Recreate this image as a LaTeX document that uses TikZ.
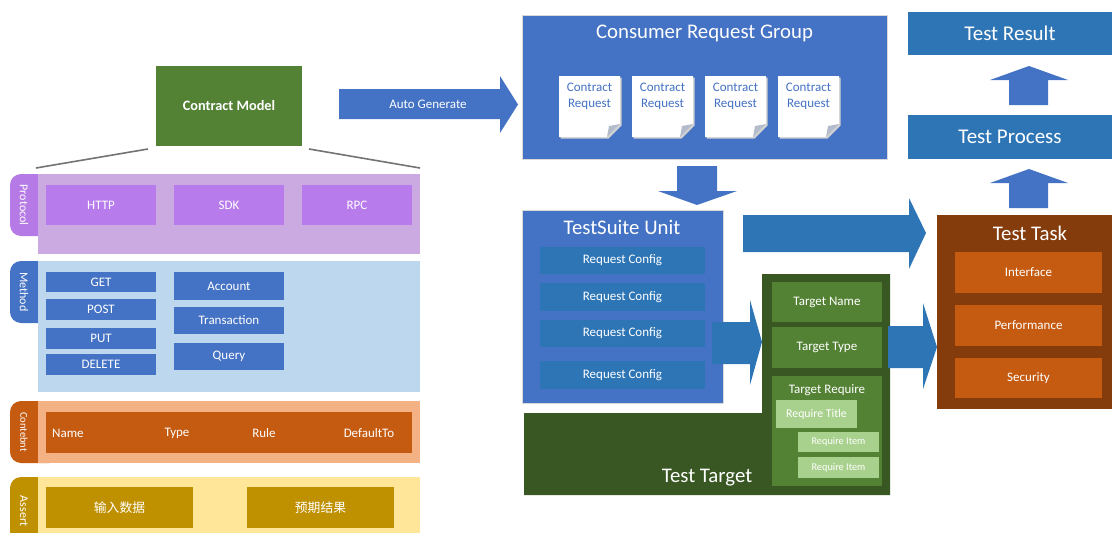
\documentclass[tikz,border=0pt]{standalone}
\usepackage{fontspec}
\setmainfont{Carlito}
\newfontfamily\cjk{Noto Sans CJK SC}
\usetikzlibrary{calc}

\definecolor{cBlue}{HTML}{4472C4}
\definecolor{cMid}{HTML}{2E75B6}
\definecolor{cGreen}{HTML}{548235}
\definecolor{cDkGreen}{HTML}{385723}
\definecolor{cLtGreen}{HTML}{A9D18E}
\definecolor{cBrown}{HTML}{843C0C}
\definecolor{cOrange}{HTML}{C55A11}
\definecolor{cLtOrange}{HTML}{F4B183}
\definecolor{cGold}{HTML}{BF9000}
\definecolor{cLtGold}{HTML}{FFE699}
\definecolor{cLtBlue}{HTML}{BDD7EE}
\definecolor{cPurple}{HTML}{B77BEC}
\definecolor{cPurpleTab}{HTML}{B57AE6}
\definecolor{cLtPurple}{HTML}{CBAAE2}
\definecolor{cFold}{HTML}{B4BCCB}

% box from corner (x1,y1) to (x2,y2), in pixel units
\newcommand\bx[7]{\node[#6, minimum width={(#4-#2)*1pt}, minimum height={(#5-#3)*1pt}] (#1) at ({(#2+#4)/2},{(#3+#5)/2}) {#7};}

% sheet with a folded corner
\newcommand\sheet[3]{%
  \fill[black!18] (#2+1.5,#3+1.5) -- ++(61,0) -- ++(0,48) -- ++(-13,13) -- ++(-48,0) -- cycle;
  \fill[white] (#2,#3) -- ++(61,0) -- ++(0,48) -- ++(-13,13) -- ++(-48,0) -- cycle;
  \fill[cFold] (#2+61,#3+48) -- (#2+48,#3+61) -- (#2+50,#3+50) -- cycle;
  \node[doctext] (#1) at (#2+30.5,#3+20) {Contract\\Request};}

% side tab with rounded left corners
\newcommand\tab[5]{%
  \fill[#4, rounded corners=11pt] (10,#2) rectangle (60,#3);
  \node[tablabel] (#1) at (24,{(#2+#3)/2}) {#5};}

\begin{document}
\begin{tikzpicture}[x=1pt,y=-1pt,
  box/.style={inner sep=0pt, outer sep=0pt, text=white, align=center,
    font=\fontsize{13}{15}\selectfont},
  title/.style={inner sep=0pt, text=white, font=\fontsize{20.8}{24}\selectfont},
  doctext/.style={inner sep=0pt, text=cBlue, align=center,
    font=\fontsize{13}{16}\selectfont},
  tablabel/.style={inner sep=0pt, text=white, rotate=-90,
    font=\fontsize{12}{14}\selectfont},
  small/.style={inner sep=0pt, text=white, font=\fontsize{13}{15}\selectfont},
  link/.style={draw=black!55, line width=1.6pt},
  frame/.style={draw=black!15, line width=0.8pt},
]
\useasboundingbox (0,0) rectangle (1112,533);
\begin{scope}
\clip (0,0) rectangle (1112,533);

% ---------------- contract model ----------------
\bx{cm}{156}{66}{302}{146}{box,fill=cGreen,font=\bfseries\fontsize{14.3}{17}\selectfont}{Contract Model}
\coordinate (cml) at (148,149);
\coordinate (cmr) at (309,149);
\coordinate (pl) at (36,168);
\coordinate (pr) at (420,168);
\draw[link] (cml) -- (pl);
\draw[link] (cmr) -- (pr);

% Protocol
\tab{tproto}{174}{236}{cPurpleTab}{Protocol}
\bx{bproto}{38}{174}{420}{254}{box,fill=cLtPurple}{}
\bx{http}{46}{185}{156}{225}{box,fill=cPurple}{HTTP}
\bx{sdk}{174}{185}{284}{225}{box,fill=cPurple}{SDK}
\bx{rpc}{302}{185}{412}{225}{box,fill=cPurple}{RPC}

% Method
\tab{tmeth}{261}{323}{cBlue}{Method}
\bx{bmeth}{38}{261}{420}{392}{box,fill=cLtBlue}{}
\bx{get}{46}{272}{156}{292}{box,fill=cBlue}{GET}
\bx{post}{46}{299}{156}{320}{box,fill=cBlue}{POST}
\bx{put}{46}{328}{156}{349}{box,fill=cBlue}{PUT}
\bx{del}{46}{354}{156}{375}{box,fill=cBlue}{DELETE}
\bx{acc}{174}{272}{284}{300}{box,fill=cBlue}{Account}
\bx{trx}{174}{307}{284}{334}{box,fill=cBlue}{Transaction}
\bx{qry}{174}{343}{284}{370}{box,fill=cBlue}{Query}

% Content
\tab{tcont}{401}{463}{cOrange}{\fontsize{10.5}{12}\selectfont Contebnt}
\bx{bcont}{38}{401}{420}{463}{box,fill=cLtOrange}{}
\bx{fields}{46}{412}{412}{453}{box,fill=cOrange}{}
\node[small, anchor=west] (fname) at (52,433) {Name};
\node[small] (ftype) at (177,433) {Type};
\node[small] (frule) at (264,433) {Rule};
\node[small] (fdef) at (369,433) {DefaultTo};

% Assert
\tab{tass}{477}{545}{cGold}{Assert}
\bx{bass}{38}{477}{420}{545}{box,fill=cLtGold}{}
\bx{inp}{46}{487}{193}{528}{box,fill=cGold,font=\cjk\fontsize{12.8}{15}\selectfont}{输入数据}
\bx{exp}{247}{487}{394}{528}{box,fill=cGold,font=\cjk\fontsize{12.8}{15}\selectfont}{预期结果}

% ---------------- auto generate ----------------
\fill[cBlue] (339,89) -- (500,89) -- (500,76) -- (518,104.5) -- (500,133) -- (500,119) -- (339,119) -- cycle;
\node[small] (autogen) at (428,104) {Auto Generate};

% ---------------- consumer request group ----------------
\bx{crg}{522}{15}{887}{159}{box,fill=cBlue,frame}{}
\node[title] (crgt) at (704.5,33) {Consumer Request Group};
\sheet{d1}{559}{76}
\sheet{d2}{632}{76}
\sheet{d3}{705}{76}
\sheet{d4}{778}{76}

% down arrow
\fill[cBlue] (677,166) -- (717,166) -- (717,191) -- (737,191) -- (697,205) -- (658,191) -- (677,191) -- cycle;

% ---------------- testsuite unit ----------------
\bx{tsu}{522}{210}{723}{403}{box,fill=cBlue,frame}{}
\node[title] (tsut) at (622,227) {TestSuite Unit};
\bx{rc1}{540}{247}{705}{274}{box,fill=cMid}{Request Config}
\bx{rc2}{540}{283}{705}{311}{box,fill=cMid}{Request Config}
\bx{rc3}{540}{320}{705}{347}{box,fill=cMid}{Request Config}
\bx{rc4}{540}{361}{705}{389}{box,fill=cMid}{Request Config}

% ---------------- test target ----------------
\fill[cDkGreen] (524,413) -- (762,413) -- (762,274) -- (890,274) -- (890,495) -- (524,495) -- cycle;
\node[title] (ttt) at (707,478) {Test Target};
\bx{tname}{772}{282}{882}{322}{box,fill=cGreen}{Target Name}
\bx{ttype}{772}{327}{882}{368}{box,fill=cGreen}{Target Type}
\bx{treq}{772}{376}{882}{486}{box,fill=cGreen}{}
\node[small] (treqt) at (827,390) {Target Require};
\bx{rtitle}{776}{400}{857}{428}{box,fill=cLtGreen,font=\fontsize{11.8}{14}\selectfont}{Require Title}
\bx{ritem1}{798}{432}{879}{452}{box,fill=cLtGreen,font=\fontsize{10.3}{12}\selectfont}{Require Item}
\bx{ritem2}{798}{457}{879}{478}{box,fill=cLtGreen,font=\fontsize{10.3}{12}\selectfont}{Require Item}

% arrows into target and task
\fill[cMid] (712,322) -- (750,322) -- (750,300) -- (762,342) -- (750,385) -- (750,364) -- (712,364) -- cycle;
\fill[cMid] (888,326) -- (923,326) -- (923,303) -- (937,347) -- (923,389) -- (923,368) -- (888,368) -- cycle;
\fill[cMid] (743,215) -- (909,215) -- (909,198) -- (926,233) -- (909,269) -- (909,252) -- (743,252) -- cycle;

% ---------------- test task ----------------
\bx{task}{937}{215}{1112}{409}{box,fill=cBrown}{}
\node[title] (taskt) at (1030,233) {Test Task};
\bx{iface}{955}{252}{1102}{293}{box,fill=cOrange}{Interface}
\bx{perf}{955}{305}{1102}{346}{box,fill=cOrange}{Performance}
\bx{sec}{955}{358}{1102}{398}{box,fill=cOrange}{Security}

% ---------------- process and result ----------------
\bx{proc}{908}{115}{1112}{159}{box,fill=cMid,font=\fontsize{21}{24}\selectfont}{Test Process}
\bx{res}{908}{12}{1112}{55}{box,fill=cMid,font=\fontsize{21}{24}\selectfont}{Test Result}
\fill[cBlue] (1009,208) -- (1009,183) -- (990,183) -- (1029,169) -- (1068,183) -- (1048,183) -- (1048,208) -- cycle;
\fill[cBlue] (1009,105) -- (1009,80) -- (990,80) -- (1029,66) -- (1068,80) -- (1048,80) -- (1048,105) -- cycle;
\end{scope}
\end{tikzpicture}
\end{document}
